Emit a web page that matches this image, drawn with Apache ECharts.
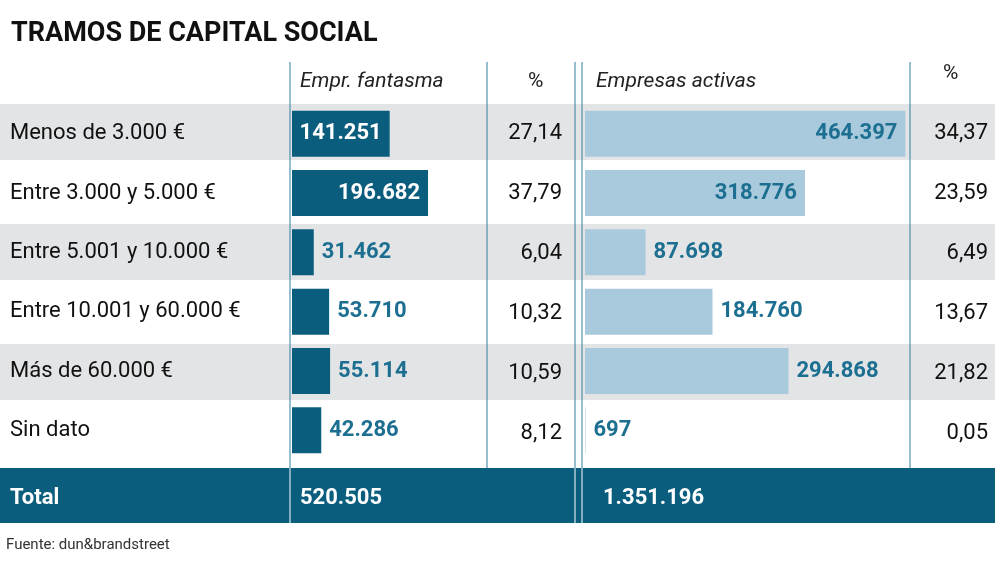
<!DOCTYPE html>
<html><head><meta charset="utf-8">
<script src="https://cdn.jsdelivr.net/npm/echarts@6/dist/echarts.min.js"></script>
<style>body{margin:0}#main{width:1000px;height:567px}</style>
</head><body><div id="main"></div>
<script>
var categories = ['Menos de 3.000 €', 'Entre 3.000 y 5.000 €', 'Entre 5.001 y 10.000 €', 'Entre 10.001 y 60.000 €', 'Más de 60.000 €', 'Sin dato'];
var fantasma = [141251, 196682, 31462, 53710, 55114, 42286];
var fantasmaPct = ['27,14', '37,79', '6,04', '10,32', '10,59', '8,12'];
var activas = [464397, 318776, 87698, 184760, 294868, 697];
var activasPct = ['34,37', '23,59', '6,49', '13,67', '21,82', '0,05'];
var totals = ['520.505', '1.351.196'];

var dark = '#0b5d7e', light = '#a9c9dc', blueText = '#1c6f91';
var font = 'Roboto';
var top0 = 104, rowH = 60;

function fmt(v) { return v.toString().replace(/\B(?=(\d{3})+(?!\d))/g, '.'); }

var myChart = echarts.init(document.getElementById('main'));

var g = [];
// bandas grises
for (var i = 0; i < 6; i += 2) {
    g.push({ type: 'rect', z: -10, shape: { x: 0, y: top0 + i * rowH, width: 995, height: rowH - 4 }, style: { fill: '#e3e4e6' } });
}
// fila total
g.push({ type: 'rect', z: -10, shape: { x: 0, y: 468, width: 995, height: 55 }, style: { fill: dark } });
g.push({ type: 'text', left: 10, top: 487, style: { text: 'Total', fill: '#fff', font: 'bold 22px ' + font } });
g.push({ type: 'text', left: 300, top: 487, style: { text: totals[0], fill: '#fff', font: 'bold 22px ' + font } });
g.push({ type: 'text', left: 603, top: 487, style: { text: totals[1], fill: '#fff', font: 'bold 22px ' + font } });
// lineas verticales
[290, 487, 575, 582, 910].forEach(function (x) {
    g.push({ type: 'line', z: 5, shape: { x1: x, y1: 62, x2: x, y2: 468 }, style: { stroke: '#2f7fa0', lineWidth: 1 } });
});
[290, 575, 582].forEach(function (x) {
    g.push({ type: 'line', z: 5, shape: { x1: x, y1: 468, x2: x, y2: 523 }, style: { stroke: '#fff', lineWidth: 1 } });
});
// cabeceras
g.push({ type: 'text', left: 300, top: 71, style: { text: 'Empr. fantasma', fill: '#222', font: 'italic 21px ' + font } });
g.push({ type: 'text', left: 528, top: 71, style: { text: '%', fill: '#222', font: '21px ' + font } });
g.push({ type: 'text', left: 596, top: 71, style: { text: 'Empresas activas', fill: '#222', font: 'italic 21px ' + font } });
g.push({ type: 'text', left: 943, top: 63, style: { text: '%', fill: '#222', font: '21px ' + font } });
// porcentajes
for (var j = 0; j < 6; j++) {
    var cy = top0 + j * rowH + 29;
    g.push({ type: 'text', x: 562, y: cy, style: { text: fantasmaPct[j], fill: '#111', font: '22px ' + font, align: 'right', verticalAlign: 'middle' } });
    g.push({ type: 'text', x: 988, y: cy, style: { text: activasPct[j], fill: '#111', font: '22px ' + font, align: 'right', verticalAlign: 'middle' } });
}
g.push({ type: 'text', left: 6, top: 538, style: { text: 'Fuente: dun&brandstreet', fill: '#333', font: '15px ' + font } });

function barData(vals, n, insideColor) {
    return vals.map(function (v, k) {
        var inside = k < n;
        return {
            value: v,
            label: {
                show: true, position: inside ? 'insideRight' : 'right',
                distance: 8,
                color: inside ? insideColor : blueText,
                fontFamily: font, fontWeight: 'bold', fontSize: 22,
                formatter: function (p) { return fmt(p.value); }
            }
        };
    });
}

option = {
    animation: false,
    title: {
        text: 'TRAMOS DE CAPITAL SOCIAL', left: 6, top: 16,
        textStyle: { fontFamily: font, fontWeight: 'bold', fontSize: 27, color: '#111' }
    },
    graphic: g,
    grid: [
        { left: 292, width: 195, top: top0, height: rowH * 6 - 4 },
        { left: 585, width: 325, top: top0, height: rowH * 6 - 4 }
    ],
    xAxis: [
        { gridIndex: 0, type: 'value', min: 0, max: 282000, show: false },
        { gridIndex: 1, type: 'value', min: 0, max: 471000, show: false }
    ],
    yAxis: [
        {
            gridIndex: 0, type: 'category', data: categories, inverse: true,
            axisLine: { show: false }, axisTick: { show: false },
            axisLabel: { align: 'left', margin: 282, color: '#111', fontFamily: font, fontSize: 22 }
        },
        { gridIndex: 1, type: 'category', data: categories, inverse: true, show: false }
    ],
    series: [
        { type: 'bar', xAxisIndex: 0, yAxisIndex: 0, barWidth: 46, itemStyle: { color: dark }, data: barData(fantasma, 2, '#fff') },
        { type: 'bar', xAxisIndex: 1, yAxisIndex: 1, barWidth: 46, itemStyle: { color: light }, data: barData(activas, 2, blueText) }
    ]
};
myChart.setOption(option);
</script></body></html>
